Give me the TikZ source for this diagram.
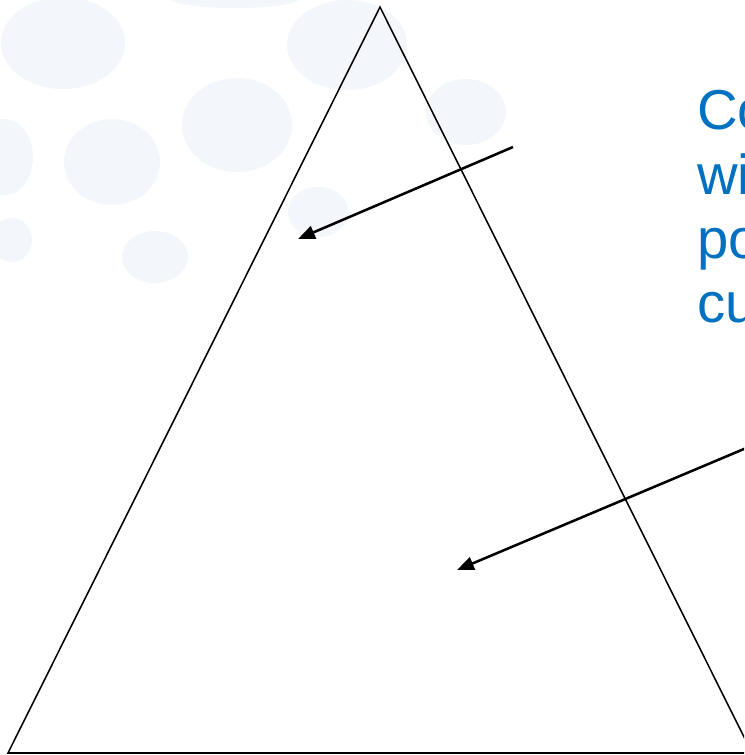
\documentclass[tikz,border=0pt]{standalone}
\usepackage{fontspec}
\setmainfont{Liberation Sans}
\usetikzlibrary{arrows.meta}
\definecolor{noteblue}{RGB}{0,112,192}
\definecolor{blobgray}{RGB}{243,246,250}

\begin{document}
\begin{tikzpicture}[x=0.025cm, y=-0.025cm,
    blob/.style={fill=blobgray, draw=none},
    pointer/.style={-{Triangle[length=12pt, width=9.5pt]}, line width=1.8pt},
    notetext/.style={text=noteblue, anchor=base west, inner sep=0pt, font=\fontsize{40}{46}\selectfont}]
            \clip (0,0) rectangle (744,755);
            \fill[white] (0,0) rectangle (744,755);

            % faint background spots
            \fill[blob] (63,43) ellipse [x radius=62, y radius=46];
            \fill[blob] (235,-2) ellipse [x radius=65, y radius=10];
            \fill[blob] (347,45) ellipse [x radius=60, y radius=45];
            \fill[blob] (237,125) ellipse [x radius=55, y radius=47];
            \fill[blob] (112,162) ellipse [x radius=48, y radius=43];
            \fill[blob] (5,157) ellipse [x radius=28, y radius=38];
            \fill[blob] (466,112) ellipse [x radius=40, y radius=33];
            \fill[blob] (318,212) ellipse [x radius=30, y radius=25];
            \fill[blob] (155,257) ellipse [x radius=33, y radius=26];
            \fill[blob] (12,240) ellipse [x radius=20, y radius=22];

            \coordinate (apex) at (380,7);
            \coordinate (leftcorner) at (8,753);
            \coordinate (rightcorner) at (752,753);
            \draw[line width=1.1pt, line join=miter] (apex) -- (leftcorner) -- (rightcorner) -- cycle;

            \node[notetext] (lineco) at (697,130) {Co};
            \node[notetext] (linewi) at (697,194) {wi};
            \node[notetext] (linepo) at (697,258) {po};
            \node[notetext] (linecu) at (697,322) {cu};

            \coordinate (upperstart) at (513,147);
            \coordinate (uppertip) at (298,239);
            \coordinate (lowerstart) at (770,438);
            \coordinate (lowertip) at (457,570);
            \draw[pointer] (upperstart) -- (uppertip);
            \draw[pointer] (lowerstart) -- (lowertip);
        \end{tikzpicture}
\end{document}
